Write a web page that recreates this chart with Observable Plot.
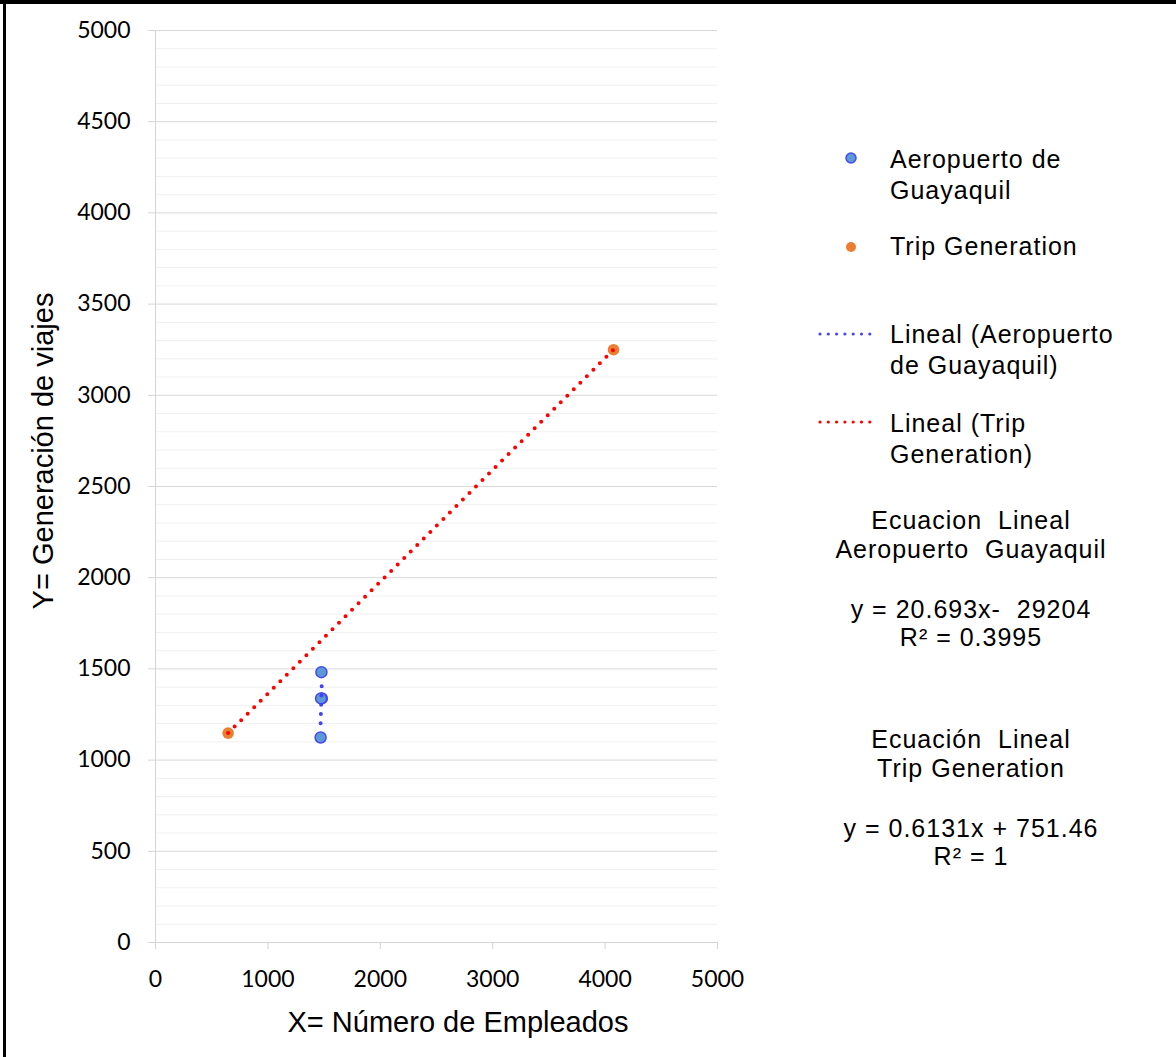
<!DOCTYPE html>
<html>
<head>
<meta charset="utf-8">
<script src="https://cdn.jsdelivr.net/npm/d3@7"></script>
<script src="https://cdn.jsdelivr.net/npm/@observablehq/plot@0.6"></script>
<style>
  html, body { margin: 0; padding: 0; background: #fff; }
  #wrap { position: relative; width: 1176px; height: 1057px; overflow: hidden; background: #fff; }
  #wrap .bt { position: absolute; left: 0; top: 0; width: 1176px; height: 4px; background: #000; }
  #wrap .bl { position: absolute; left: 3px; top: 0; width: 3px; height: 1057px; background: #000; }
  #chart { position: absolute; left: 0; top: 0; }
</style>
</head>
<body>
<div id="wrap">
  <div id="chart"></div>
  <div class="bt"></div>
  <div class="bl"></div>
</div>
<script>
// ---- data ----
const aeroX = [1469, 1480, 1473, 1476];
const aeroY = [1124, 1338, 1338, 1482];
const tripX = [646, 4075];
const tripY = [1148, 3250];

const xTicks = [0, 1000, 2000, 3000, 4000, 5000];
const yTicks = [0, 500, 1000, 1500, 2000, 2500, 3000, 3500, 4000, 4500, 5000];
const yMinorTicks = d3.range(100, 5000, 100).filter(v => v % 500 !== 0);

const xTitle = "X= Número de Empleados";
const yTitle = "Y= Generación de viajes";
const legendItems = [
  {kind: "dot", fill: "#5b9bd5", stroke: "#4848f0", lines: ["Aeropuerto de", "Guayaquil"]},
  {kind: "dot", fill: "#ed7d31", stroke: "none", lines: ["Trip Generation"]},
  {kind: "line", stroke: "#4646f8", lines: ["Lineal (Aeropuerto", "de Guayaquil)"]},
  {kind: "line", stroke: "#ff0000", lines: ["Lineal (Trip", "Generation)"]}
];
const eqAero = ["Ecuacion  Lineal", "Aeropuerto  Guayaquil", "", "y = 20.693x-  29204", "R² = 0.3995"];
const eqTrip = ["Ecuación  Lineal", "Trip Generation", "", "y = 0.6131x + 751.46", "R² = 1"];

const aero = aeroX.map((x, i) => ({x, y: aeroY[i]}));
const trip = tripX.map((x, i) => ({x, y: tripY[i]}));

const dotted = {strokeWidth: 4, strokeDasharray: "0 9.2", strokeLinecap: "round"};

const chart = Plot.plot({
  width: 1176,
  height: 1057,
  marginLeft: 155,
  marginRight: 459,
  marginTop: 30,
  marginBottom: 115,
  x: {domain: [0, 5000]},
  y: {domain: [0, 5000]},
  style: {fontFamily: "Lato, 'Liberation Sans', sans-serif", fontSize: "23px", color: "#000", background: "transparent", overflow: "visible"},
  marks: [
    Plot.ruleY(yMinorTicks, {stroke: "#f0f0f0", strokeWidth: 1}),
    Plot.ruleY(yTicks.filter(v => v > 0), {stroke: "#d9d9d9", strokeWidth: 1}),
    Plot.ruleX([0], {stroke: "#d4d4d4", strokeWidth: 1}),
    Plot.ruleY([0], {stroke: "#d4d4d4", strokeWidth: 1}),
    Plot.axisY(yTicks, {tickSize: 7, tickPadding: 18, stroke: "#d4d4d4", fill: "#000", label: null, fontSize: 23, tickFormat: d => String(d)}),
    Plot.axisX(xTicks, {tickSize: 7, tickPadding: 21, stroke: "#d4d4d4", fill: "#000", label: null, fontSize: 23, tickFormat: d => String(d)}),
    Plot.dot(aero, {x: "x", y: "y", r: 5.5, fill: "#5b9bd5", stroke: "#4848f0", strokeWidth: 1.5}),
    Plot.dot(trip, {x: "x", y: "y", r: 5.8, fill: "#ed7d31", stroke: "none"}),
    Plot.linearRegressionY(aero, {x: "x", y: "y", ci: 0, stroke: "#4040ff", ...dotted}),
    Plot.linearRegressionY(trip, {x: "x", y: "y", ci: 0, stroke: "#ff0000", ...dotted})
  ]
});
document.getElementById("chart").appendChild(chart);

// ---- titles, legend, equations (real SVG text) ----
const svg = d3.select(chart);
const arial = "'Liberation Sans', Arial, sans-serif";

svg.append("text")
  .attr("x", 458).attr("y", 1032)
  .attr("text-anchor", "middle")
  .style("font-family", arial).style("font-size", "29px").attr("fill", "#000")
  .text(xTitle);

svg.append("text")
  .attr("transform", "translate(53,451) rotate(-90)")
  .attr("text-anchor", "middle")
  .style("font-family", arial).style("font-size", "29px").attr("fill", "#000")
  .text(yTitle);

const leg = svg.append("g").attr("text-anchor", "start");
const legTop = [168, 255, 343, 432];
const legMark = [158, 247, 334, 422];
const lineH = 31;
legendItems.forEach((it, i) => {
  if (it.kind === "dot") {
    leg.append("circle").attr("cx", 851).attr("cy", legMark[i]).attr("r", 5)
      .attr("fill", it.fill).attr("stroke", it.stroke).attr("stroke-width", 1.5);
  } else {
    leg.append("line").attr("x1", 820).attr("x2", 876).attr("y1", legMark[i]).attr("y2", legMark[i])
      .attr("stroke", it.stroke).attr("stroke-width", 3.2)
      .attr("stroke-dasharray", "0 8.3").attr("stroke-linecap", "round");
  }
  it.lines.forEach((t, j) => {
    leg.append("text").attr("x", 890).attr("y", legTop[i] + j * lineH)
      .attr("text-anchor", "start")
      .style("font-family", arial).style("font-size", "25px").style("letter-spacing", "1px")
      .attr("fill", "#000").text(t);
  });
});

const eqG = svg.append("g");
const eqBlocks = [{lines: eqAero, top: 529}, {lines: eqTrip, top: 748}];
eqBlocks.forEach(b => {
  b.lines.forEach((t, j) => {
    if (!t) return;
    const yy = j < 2 ? b.top + j * 29 : b.top + 89 + (j - 3) * 28;
    eqG.append("text").attr("x", 971).attr("y", yy)
      .attr("text-anchor", "middle")
      .style("font-family", arial).style("font-size", "25px").style("letter-spacing", "1px")
      .style("white-space", "pre").attr("xml:space", "preserve")
      .attr("fill", "#000").text(t);
  });
});
</script>
</body>
</html>
